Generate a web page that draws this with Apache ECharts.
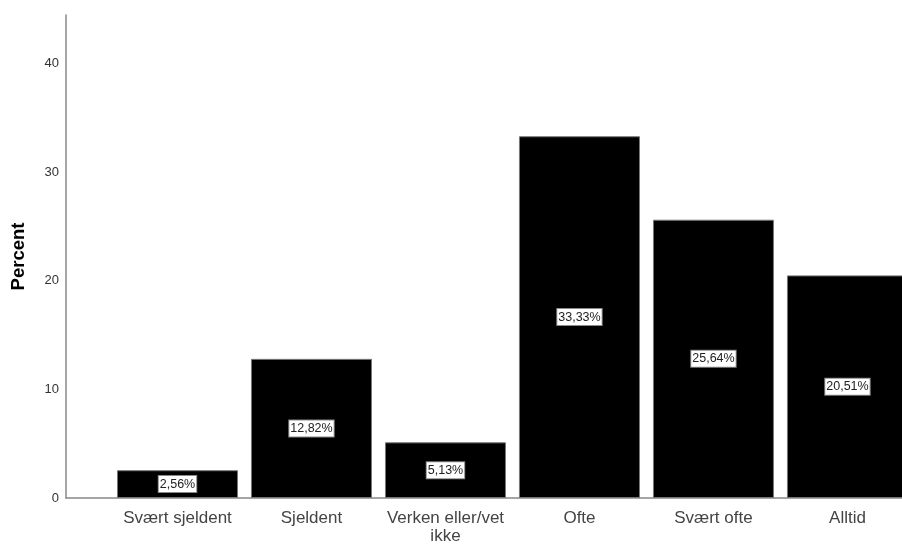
<!DOCTYPE html>
<html>
<head>
<meta charset="utf-8">
<script src="https://cdn.jsdelivr.net/npm/echarts@6/dist/echarts.min.js"></script>
<style>html,body{margin:0;padding:0;background:#fff}#c{width:902px;height:554px}</style>
</head>
<body>
<div id="c"></div>
<script>
var categories = ["Svært sjeldent", "Sjeldent", "Verken eller/vet\nikke", "Ofte", "Svært ofte", "Alltid"];
var percentValues = [2.56, 12.82, 5.13, 33.33, 25.64, 20.51];
var yTicks = [0, 10, 20, 30, 40];

var chart = echarts.init(document.getElementById('c'), null, {renderer: 'canvas'});
var font = 'Liberation Sans, Arial, sans-serif';
var option = {
  animation: false,
  grid: {left: 66, right: 0, top: 15, bottom: 56, containLabel: false},
  xAxis: {
    type: 'value',
    min: -0.832,
    max: 5.407,
    axisLine: {show: true, onZero: false, lineStyle: {color: '#888', width: 1.5}},
    axisTick: {show: false},
    splitLine: {show: false},
    axisLabel: {
      customValues: [0, 1, 2, 3, 4, 5],
      formatter: function (v) { return categories[Math.round(v)]; },
      color: '#444', fontSize: 17, fontFamily: font, margin: 11, lineHeight: 18
    }
  },
  yAxis: {
    type: 'value',
    min: 0, max: 44.5, interval: 10,
    name: 'Percent', nameLocation: 'middle', nameGap: 38, nameRotate: 90,
    nameTextStyle: {fontSize: 18.5, fontWeight: 'bold', color: '#000', fontFamily: font},
    axisLine: {show: true, onZero: false, lineStyle: {color: '#888', width: 1.5}},
    axisTick: {show: false},
    splitLine: {show: false},
    axisLabel: {
      customValues: yTicks,
      color: '#333', fontSize: 13, fontFamily: font, margin: 7
    }
  },
  series: [{
    type: 'bar',
    data: percentValues.map(function (v, i) { return [i, v]; }),
    barWidth: 121,
    itemStyle: {color: '#000', borderColor: '#777', borderWidth: 1},
    label: {
      show: true, position: 'inside',
      formatter: function (p) { return p.value[1].toFixed(2).replace('.', ',') + '%'; },
      color: '#222', fontSize: 12.5, fontFamily: font,
      backgroundColor: '#fff', borderColor: '#888', borderWidth: 1,
      padding: [2, 1, 1, 1]
    }
  }]
};
chart.setOption(option);
</script>
</body>
</html>
